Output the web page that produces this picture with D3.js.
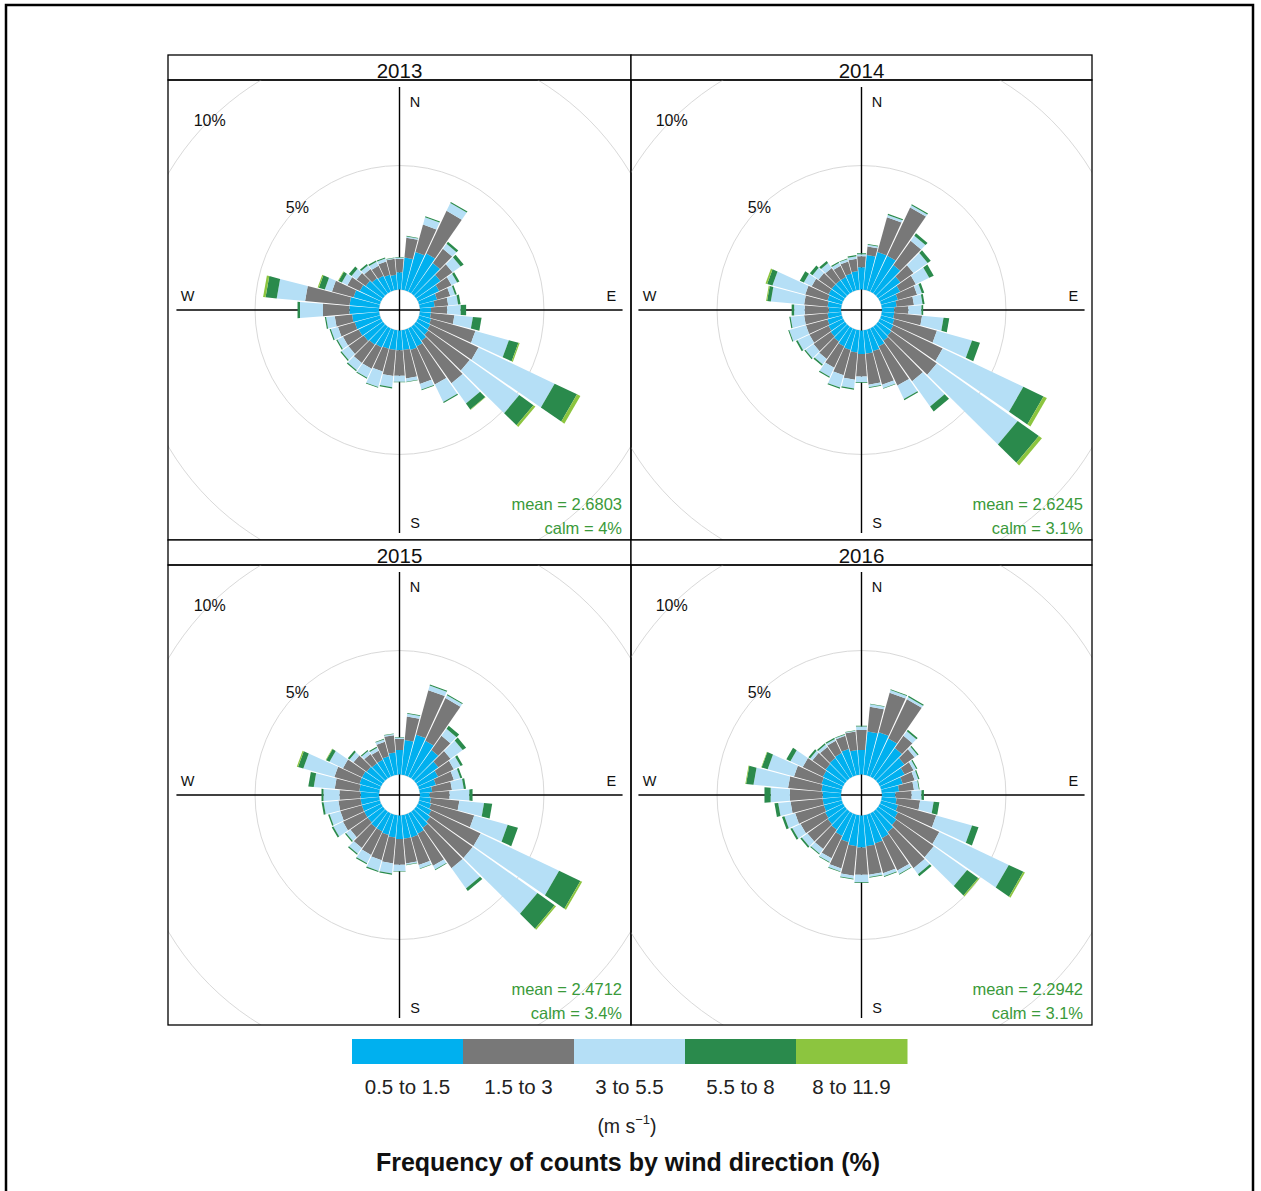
<!DOCTYPE html>
<html>
<head>
<meta charset="utf-8">
<script src="https://cdn.jsdelivr.net/npm/d3@7/dist/d3.min.js"></script>
<style>
    body { margin: 0; background: #fff; }
</style>
</head>
<body>
<div id="chart"></div>
<script>

// panel titles and the per-year summary numbers printed bottom right
const years = ['2013', '2014', '2015', '2016']
const meanSpeed = ['2.6803', '2.6245', '2.4712', '2.2942']
const calmPct = ['4%', '3.1%', '3.4%', '3.1%']

// wind direction bins (degrees, bar centre)
const directions = [10, 20, 30, 40, 50, 60, 70, 80, 90, 100, 110, 120,
                    130, 140, 150, 160, 170, 180, 190, 200, 210, 220, 230, 240,
                    250, 260, 270, 280, 290, 300, 310, 320, 330, 340, 350, 360]

// speed classes
const speedBins = ['0.5 to 1.5', '1.5 to 3', '3 to 5.5', '5.5 to 8', '8 to 11.9']
const binColours = ['#00b0ef', '#787878', '#b5dff6', '#2a8a4c', '#8cc53f']

// grid rings (%)
const ringValues = [5, 10]

// frequency (%) per direction, one column per speed class
const freq2013 = [
    [1.3, 0.8, 0.05, 0.03, 0], [1.6, 1.15, 0.3, 0.05, 0], [1.7, 1.9, 0.35, 0.05, 0],
    [1.5, 0.7, 0.25, 0.1, 0], [1.2, 0.6, 0.4, 0.15, 0], [0.95, 0.55, 0.25, 0.1, 0],
    [0.75, 0.55, 0.2, 0.07, 0], [0.6, 0.55, 0.4, 0.1, 0], [0.45, 0.65, 0.55, 0.22, 0],
    [0.45, 0.95, 0.75, 0.35, 0], [0.5, 1.85, 1.4, 0.4, 0.05], [0.55, 2.15, 3.4, 1.0, 0.15],
    [0.6, 2.05, 2.45, 0.7, 0.1], [0.7, 2.1, 1.0, 0.3, 0.02], [0.8, 1.7, 0.78, 0.05, 0],
    [0.85, 1.42, 0.23, 0.03, 0], [0.8, 1.15, 0.13, 0.02, 0], [0.8, 1.03, 0.25, 0.02, 0],
    [0.8, 1.05, 0.45, 0.05, 0], [0.8, 0.95, 0.65, 0.03, 0], [0.85, 0.95, 0.4, 0.04, 0],
    [0.9, 0.9, 0.35, 0.05, 0], [0.95, 0.75, 0.35, 0.05, 0], [1.0, 0.7, 0.25, 0.05, 0],
    [1.05, 0.7, 0.3, 0.05, 0], [1.1, 0.7, 0.35, 0.05, 0], [1.2, 1.07, 0.93, 0.1, 0],
    [1.2, 1.8, 1.15, 0.45, 0.1], [1.1, 0.9, 0.3, 0.25, 0.05], [0.95, 0.55, 0.25, 0.15, 0.02],
    [0.85, 0.45, 0.25, 0.13, 0], [0.75, 0.45, 0.18, 0.07, 0], [0.7, 0.45, 0.18, 0.06, 0],
    [0.65, 0.55, 0.13, 0.04, 0], [0.6, 0.65, 0.03, 0.02, 0], [0.7, 0.54, 0.06, 0.02, 0]
]

const freq2014 = [
    [1.4, 0.35, 0.07, 0.03, 0], [1.6, 1.45, 0.1, 0.05, 0], [1.6, 2.15, 0.1, 0.05, 0],
    [1.4, 1.2, 0.25, 0.12, 0], [1.1, 0.65, 0.7, 0.15, 0], [0.9, 0.7, 0.6, 0.2, 0],
    [0.7, 0.8, 0.2, 0.1, 0], [0.6, 0.7, 0.35, 0.08, 0], [0.5, 0.57, 0.53, 0.07, 0],
    [0.5, 1.13, 0.87, 0.23, 0], [0.55, 1.78, 1.47, 0.33, 0], [0.6, 2.2, 3.6, 0.9, 0.15],
    [0.65, 2.25, 4.0, 1.05, 0.15], [0.7, 2.0, 1.25, 0.25, 0], [0.8, 1.75, 0.6, 0.05, 0],
    [0.9, 1.4, 0.15, 0.02, 0], [0.95, 1.25, 0.1, 0.03, 0], [0.95, 0.92, 0.23, 0.03, 0],
    [0.9, 1.1, 0.35, 0.05, 0], [0.85, 1.05, 0.52, 0.05, 0], [0.8, 0.95, 0.4, 0.05, 0],
    [0.75, 0.85, 0.27, 0.06, 0], [0.7, 0.85, 0.4, 0.05, 0], [0.65, 0.85, 0.53, 0.07, 0],
    [0.6, 0.9, 0.7, 0.04, 0], [0.55, 0.95, 0.55, 0.05, 0], [0.5, 0.97, 0.43, 0.1, 0],
    [0.55, 0.95, 1.35, 0.15, 0.04], [0.6, 0.93, 1.37, 0.22, 0.07], [0.65, 0.75, 0.35, 0.18, 0],
    [0.65, 0.65, 0.3, 0.13, 0], [0.65, 0.6, 0.25, 0.1, 0], [0.65, 0.5, 0.13, 0.05, 0],
    [0.7, 0.5, 0.1, 0.03, 0], [0.75, 0.5, 0.1, 0.05, 0], [0.9, 0.45, 0.08, 0.04, 0]
]

const freq2015 = [
    [1.4, 0.95, 0.12, 0.03, 0], [1.7, 1.86, 0.19, 0.05, 0], [1.6, 1.9, 0.13, 0.04, 0],
    [1.4, 0.7, 0.35, 0.15, 0], [1.1, 0.6, 0.6, 0.17, 0], [0.9, 0.7, 0.3, 0.1, 0],
    [0.7, 0.75, 0.27, 0.08, 0], [0.5, 0.8, 0.48, 0.09, 0], [0.4, 0.8, 0.8, 0.13, 0],
    [0.45, 1.15, 1.0, 0.33, 0], [0.5, 1.8, 1.4, 0.43, 0], [0.6, 2.2, 3.5, 0.95, 0.08],
    [0.7, 2.1, 3.2, 0.85, 0.07], [0.8, 2.0, 1.0, 0.13, 0], [0.9, 1.43, 0.17, 0.03, 0],
    [0.95, 1.15, 0.15, 0.02, 0], [0.95, 1.0, 0.05, 0.02, 0], [0.95, 1.05, 0.25, 0.02, 0],
    [0.9, 1.05, 0.4, 0.05, 0], [0.85, 1.05, 0.45, 0.05, 0], [0.8, 1.05, 0.37, 0.05, 0],
    [0.8, 1.0, 0.28, 0.05, 0], [0.75, 0.85, 0.22, 0.05, 0], [0.75, 0.95, 0.43, 0.07, 0],
    [0.75, 0.9, 0.45, 0.06, 0], [0.75, 0.9, 0.6, 0.08, 0], [0.75, 0.85, 0.65, 0.08, 0],
    [0.8, 1.0, 0.85, 0.22, 0], [0.85, 1.05, 1.3, 0.22, 0.05], [0.85, 0.85, 0.6, 0.15, 0.02],
    [0.8, 0.65, 0.2, 0.08, 0], [0.75, 0.45, 0.15, 0.05, 0], [0.75, 0.4, 0.13, 0.05, 0],
    [0.8, 0.6, 0.1, 0.03, 0], [0.9, 0.7, 0.05, 0.02, 0], [1.0, 0.44, 0.06, 0.02, 0]
]

const freq2016 = [
    [1.75, 1.0, 0.1, 0.02, 0], [1.8, 1.65, 0.12, 0.03, 0], [1.7, 1.75, 0.1, 0.05, 0],
    [1.5, 0.6, 0.23, 0.07, 0], [1.3, 0.5, 0.15, 0.05, 0], [1.1, 0.4, 0.12, 0.05, 0],
    [0.9, 0.5, 0.15, 0.05, 0], [0.7, 0.6, 0.2, 0.03, 0], [0.55, 0.65, 0.4, 0.1, 0],
    [0.6, 0.95, 0.55, 0.23, 0], [0.7, 1.6, 1.5, 0.27, 0], [0.8, 1.85, 3.1, 0.65, 0.07],
    [0.9, 1.85, 1.65, 0.55, 0.05], [1.0, 1.8, 0.3, 0.1, 0], [1.1, 1.45, 0.15, 0.03, 0],
    [1.2, 1.25, 0.12, 0.03, 0], [1.25, 1.15, 0.1, 0.03, 0], [1.3, 1.1, 0.3, 0.03, 0],
    [1.25, 1.2, 0.12, 0.03, 0], [1.15, 1.1, 0.12, 0.03, 0], [1.0, 1.0, 0.17, 0.03, 0],
    [0.9, 0.95, 0.23, 0.04, 0], [0.85, 1.0, 0.28, 0.07, 0], [0.8, 1.1, 0.37, 0.08, 0],
    [0.75, 1.2, 0.45, 0.1, 0], [0.75, 1.3, 0.5, 0.15, 0], [0.75, 1.32, 0.78, 0.25, 0],
    [0.8, 1.35, 1.4, 0.3, 0.03], [0.85, 1.15, 1.1, 0.25, 0.02], [0.9, 0.9, 0.55, 0.18, 0],
    [0.95, 0.65, 0.12, 0.08, 0], [1.0, 0.55, 0.12, 0.06, 0], [1.05, 0.55, 0.08, 0.05, 0],
    [1.1, 0.55, 0.05, 0.03, 0], [1.0, 0.75, 0.03, 0.02, 0], [1.0, 0.8, 0.15, 0.03, 0]
]

const yearFreqs = [freq2013, freq2014, freq2015, freq2016]

const width = 1261,
      height = 1191,
      fontFamily = '"Liberation Sans", Arial, sans-serif'

// lattice layout: 2 x 2 panels, each with a strip on top
const layout = {left: 168, top: 55, colW: [463, 461], rowH: 485, strip: 25}

// polar scale: 10 % -> 248 px; hole = 10 % of the largest bar
const maxFreq = 8.25
const rScale = d3.scaleLinear().domain([0, 10]).range([0, 248])
const offSet = maxFreq * 0.1
const myMax = rScale(maxFreq + offSet) - 2
const halfWidth = 4.6   // half angular width of a bar, degrees

const rad = d => (d * Math.PI) / 180
const polar = (wd, v) => [rScale(v + offSet) * Math.sin(rad(wd)), -rScale(v + offSet) * Math.cos(rad(wd))]

const svg = d3.select('#chart')
    .append('svg')
    .attr('width', width)
    .attr('height', height)
    .attr('font-family', fontFamily)

// outer frame of the picture
svg.append('rect')
    .attr('x', 6)
    .attr('y', 5)
    .attr('width', 1247)
    .attr('height', 1220)
    .attr('fill', 'none')
    .attr('stroke', '#000')
    .attr('stroke-width', 2.5)

const defs = svg.append('defs')

years.forEach((year, k) => {

    const col = k % 2,
          row = Math.floor(k / 2)
    const x0 = layout.left + (col ? layout.colW[0] : 0),
          y0 = layout.top + row * layout.rowH,
          w = layout.colW[col],
          plotTop = y0 + layout.strip,
          plotH = layout.rowH - layout.strip
    const cx = x0 + w / 2,
          cy = plotTop + plotH / 2

    defs.append('clipPath')
        .attr('id', `clip${k}`)
        .append('rect')
        .attr('x', x0)
        .attr('y', plotTop)
        .attr('width', w)
        .attr('height', plotH)

    const panel = svg.append('g')

    // strip
    panel.append('rect')
        .attr('x', x0)
        .attr('y', y0)
        .attr('width', w)
        .attr('height', layout.strip)
        .attr('fill', '#fff')
        .attr('stroke', '#000')
        .attr('stroke-width', 1.3)

    panel.append('text')
        .attr('x', cx)
        .attr('y', y0 + 23)
        .attr('text-anchor', 'middle')
        .attr('font-size', '20.5px')
        .attr('fill', '#111')
        .text(year)

    const plot = panel.append('g')
        .attr('clip-path', `url(#clip${k})`)
        .append('g')
        .attr('transform', `translate(${cx},${cy})`)

    // grid rings, including the hole
    plot.selectAll('circle')
        .data([0].concat(ringValues))
        .join('circle')
        .attr('r', d => rScale(d + offSet))
        .attr('fill', 'none')
        .attr('stroke', '#d9d9d9')
        .attr('stroke-width', 1)

    // compass axes
    plot.append('line')
        .attr('x1', -myMax).attr('x2', myMax)
        .attr('y1', 0).attr('y2', 0)
        .attr('stroke', '#000').attr('stroke-width', 1.4)

    plot.append('line')
        .attr('x1', 0).attr('x2', 0)
        .attr('y1', -myMax).attr('y2', myMax)
        .attr('stroke', '#000').attr('stroke-width', 1.4)

    const compass = [
        {t: 'N', x: myMax * 0.07, y: -myMax * 0.935},
        {t: 'S', x: myMax * 0.07, y: myMax * 0.955},
        {t: 'E', x: myMax * 0.95, y: -myMax * 0.063},
        {t: 'W', x: -myMax * 0.95, y: -myMax * 0.063}
    ]

    plot.selectAll('text.compass')
        .data(compass)
        .join('text')
        .attr('class', 'compass')
        .attr('x', d => d.x)
        .attr('y', d => d.y)
        .attr('dy', '0.35em')
        .attr('text-anchor', 'middle')
        .attr('font-size', '14.5px')
        .attr('fill', '#111')
        .text(d => d.t)

    // bars: one polygon per speed class, stacked outwards
    const freq = yearFreqs[k]
    const segs = []
    directions.forEach((wd, i) => {
        let cum = 0
        freq[i].forEach((v, j) => {
            if (v > 0) segs.push({wd: wd, len1: cum, len2: cum + v, bin: j})
            cum += v
        })
    })

    plot.selectAll('path.bar')
        .data(segs)
        .join('path')
        .attr('class', 'bar')
        .attr('d', d => 'M' + [
            polar(d.wd - halfWidth, d.len1),
            polar(d.wd + halfWidth, d.len1),
            polar(d.wd + halfWidth, d.len2),
            polar(d.wd - halfWidth, d.len2)
        ].map(p => p.join(',')).join('L') + 'Z')
        .attr('fill', d => binColours[d.bin])

    // ring labels at 315 degrees
    plot.selectAll('text.ring')
        .data(ringValues)
        .join('text')
        .attr('class', 'ring')
        .attr('x', d => polar(315, d)[0])
        .attr('y', d => polar(315, d)[1])
        .attr('dy', '0.35em')
        .attr('text-anchor', 'middle')
        .attr('font-size', '16px')
        .attr('fill', '#111')
        .text(d => d + '%')

    // panel border
    panel.append('rect')
        .attr('x', x0)
        .attr('y', plotTop)
        .attr('width', w)
        .attr('height', plotH)
        .attr('fill', 'none')
        .attr('stroke', '#000')
        .attr('stroke-width', 1.3)

    panel.append('text')
        .attr('x', x0 + w - 9)
        .attr('y', plotTop + plotH - 30)
        .attr('text-anchor', 'end')
        .attr('font-size', '16.5px')
        .attr('fill', '#3a9a3a')
        .text('mean = ' + meanSpeed[k])

    panel.append('text')
        .attr('x', x0 + w - 9)
        .attr('y', plotTop + plotH - 6)
        .attr('text-anchor', 'end')
        .attr('font-size', '16.5px')
        .attr('fill', '#3a9a3a')
        .text('calm = ' + calmPct[k])
})

// colour key
const keyX = d3.scaleBand().domain(speedBins).range([352, 907]).paddingInner(0)

const key = svg.append('g')

key.selectAll('rect')
    .data(speedBins)
    .join('rect')
    .attr('x', d => keyX(d))
    .attr('y', 1039)
    .attr('width', keyX.bandwidth() + 0.5)
    .attr('height', 25)
    .attr('fill', (d, i) => binColours[i])

key.selectAll('text')
    .data(speedBins)
    .join('text')
    .attr('x', d => keyX(d) + keyX.bandwidth() / 2)
    .attr('y', 1094)
    .attr('text-anchor', 'middle')
    .attr('font-size', '20.5px')
    .attr('fill', '#222')
    .text(d => d)

const units = svg.append('text')
    .attr('x', 627)
    .attr('y', 1133)
    .attr('text-anchor', 'middle')
    .attr('font-size', '19.5px')
    .attr('fill', '#222')

units.append('tspan').text('(m s')
units.append('tspan').attr('dy', -9).attr('font-size', '13px').text('\u22121')
units.append('tspan').attr('dy', 9).text(')')

svg.append('text')
    .attr('x', 628)
    .attr('y', 1171)
    .attr('text-anchor', 'middle')
    .attr('font-size', '25px')
    .attr('font-weight', 'bold')
    .attr('fill', '#111')
    .text('Frequency of counts by wind direction (%)')

</script>
</body>
</html>
